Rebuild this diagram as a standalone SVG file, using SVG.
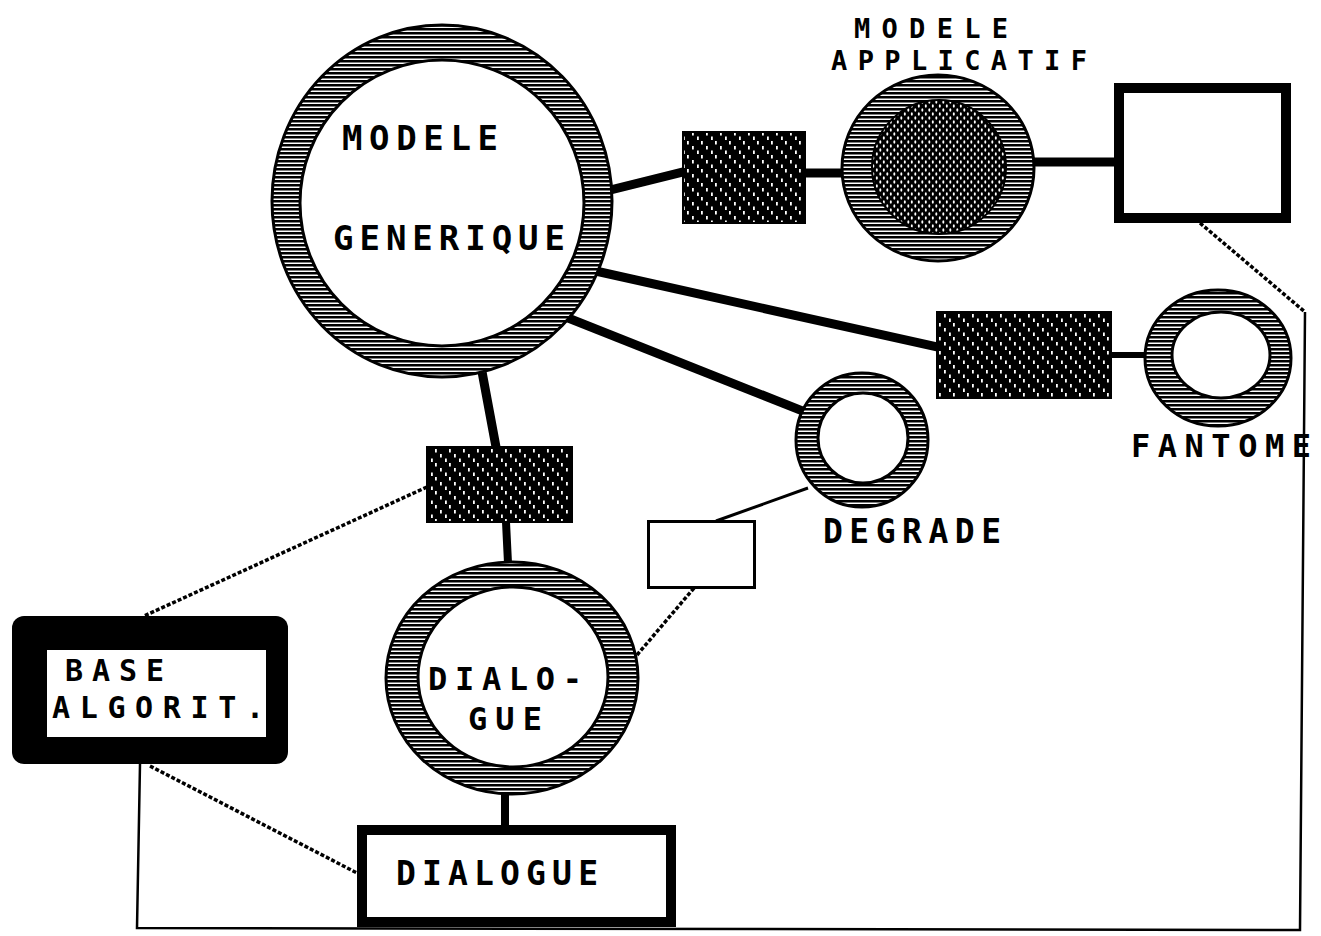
<svg xmlns="http://www.w3.org/2000/svg" width="1321" height="936" viewBox="0 0 1321 936">
<defs>
  <pattern id="hatch" width="8" height="4" patternUnits="userSpaceOnUse">
    <rect width="8" height="4" fill="#fff"/>
    <rect width="8" height="2.5" fill="#000"/>
  </pattern>
  <pattern id="dark" width="14" height="14" patternUnits="userSpaceOnUse">
    <rect width="14" height="14" fill="#000"/>
    <rect x="1" y="1" width="1.8" height="3.5" fill="#fff"/>
    <rect x="6" y="6" width="1.8" height="3.5" fill="#fff"/>
    <rect x="11" y="10.5" width="1.8" height="3.5" fill="#fff"/>
  </pattern>
  <pattern id="dots" width="7" height="8" patternUnits="userSpaceOnUse">
    <rect width="7" height="8" fill="#000"/>
    <ellipse cx="1.8" cy="2" rx="1" ry="1.7" fill="#fff"/>
    <ellipse cx="5.3" cy="6" rx="1" ry="1.7" fill="#fff"/>
  </pattern>
</defs>
<style>
  .ring{fill:url(#hatch);stroke:#000;stroke-width:3}
  .hole{fill:#fff;stroke:#000;stroke-width:3}
  .darkbox{fill:url(#dark);stroke:#000;stroke-width:2}
  .thick{stroke:#000;stroke-width:9;fill:none;stroke-linecap:square}
  .thin{stroke:#000;stroke-width:3;fill:none}
  .dotted{stroke:#000;stroke-width:3.5;fill:none;stroke-dasharray:4 2}
  .frame{stroke:#000;stroke-width:2.5;fill:none}
  text{font-family:"DejaVu Sans Mono","Liberation Mono",monospace;font-weight:bold;fill:#000;font-size:34px}
</style>
<rect width="1321" height="936" fill="#fff"/>

<g id="connectors">
  <polyline class="frame" points="140,764 137,928 1300,930 1305,312"/>
  <line class="dotted" x1="1200" y1="223" x2="1305" y2="312"/>
  <line class="thick" x1="610" y1="190" x2="683" y2="172"/>
  <line class="thick" x1="805" y1="173" x2="843" y2="173"/>
  <line class="thick" x1="1033" y1="162" x2="1114" y2="162"/>
  <line class="thick" x1="600" y1="272" x2="937" y2="347"/>
  <line class="thick" x1="568" y1="318" x2="800" y2="410"/>
  <line class="thin" x1="1111" y1="355" x2="1146" y2="355" style="stroke-width:6"/>
  <line class="thick" x1="483" y1="377" x2="496" y2="447"/>
  <line class="thick" x1="506" y1="522" x2="508" y2="563" style="stroke-width:8"/>
  <line class="thick" x1="505" y1="793" x2="505" y2="826" style="stroke-width:8"/>
  <line class="thin" x1="808" y1="488" x2="716" y2="521"/>
  <line class="dotted" x1="694" y1="588" x2="637" y2="655"/>
  <line class="dotted" x1="427" y1="487" x2="144" y2="616"/>
  <line class="dotted" x1="150" y1="766" x2="357" y2="873"/>
</g>

<g id="modele-generique">
  <ellipse class="ring" cx="442" cy="201" rx="170" ry="176"/>
  <ellipse class="hole" cx="442" cy="203" rx="142" ry="143"/>
  <text x="342" y="150" textLength="156" lengthAdjust="spacing">MODELE</text>
  <text x="333" y="250" textLength="232" lengthAdjust="spacing">GENERIQUE</text>
</g>

<g id="box-applicatif">
  <rect class="darkbox" x="683" y="132" width="122" height="91"/>
</g>

<g id="modele-applicatif">
  <ellipse class="ring" cx="938" cy="168" rx="96" ry="93"/>
  <ellipse cx="939" cy="167" rx="67" ry="67" fill="url(#dots)" stroke="#000" stroke-width="2"/>
  <text x="854" y="38" textLength="154" lengthAdjust="spacing" style="font-size:27px">MODELE</text>
  <text x="831" y="70" textLength="256" lengthAdjust="spacing" style="font-size:27px">APPLICATIF</text>
</g>

<g id="square-applicatif">
  <rect x="1119" y="88" width="167" height="130" fill="#fff" stroke="#000" stroke-width="10"/>
</g>

<g id="box-fantome">
  <rect class="darkbox" x="937" y="312" width="174" height="86"/>
</g>

<g id="fantome">
  <ellipse class="ring" cx="1218" cy="358" rx="73" ry="68"/>
  <ellipse class="hole" cx="1221" cy="355" rx="49" ry="43"/>
  <text x="1131" y="457" textLength="180" lengthAdjust="spacing" style="font-size:32px">FANTOME</text>
</g>

<g id="degrade">
  <ellipse class="ring" cx="862" cy="440" rx="66" ry="67"/>
  <ellipse class="hole" cx="863" cy="438" rx="45" ry="45"/>
  <text x="823" y="543" textLength="178" lengthAdjust="spacing" style="font-size:33px">DEGRADE</text>
</g>

<g id="box-dialogue">
  <rect class="darkbox" x="427" y="447" width="145" height="75"/>
</g>

<g id="small-box">
  <rect x="648.5" y="521.5" width="106" height="66" fill="#fff" stroke="#000" stroke-width="3"/>
</g>

<g id="dialogue-ring">
  <ellipse class="ring" cx="512" cy="678" rx="126" ry="116"/>
  <ellipse class="hole" cx="513" cy="677" rx="95" ry="90"/>
  <text x="428" y="690" textLength="154" lengthAdjust="spacing" style="font-size:32px">DIALO-</text>
  <text x="468" y="730" textLength="74" lengthAdjust="spacing" style="font-size:32px">GUE</text>
</g>

<g id="base-algorit">
  <rect x="12" y="616" width="276" height="148" rx="12" fill="#000"/>
  <rect x="47" y="650" width="219" height="87" fill="#fff"/>
  <text x="65" y="681" textLength="99" lengthAdjust="spacing" style="font-size:30px">BASE</text>
  <text x="52" y="718" textLength="212" lengthAdjust="spacing" style="font-size:30px">ALGORIT.</text>
</g>

<g id="dialogue-box">
  <rect x="362" y="830" width="309" height="92" fill="#fff" stroke="#000" stroke-width="10"/>
  <text x="396" y="885" textLength="202" lengthAdjust="spacing" style="font-size:33px">DIALOGUE</text>
</g>
</svg>
